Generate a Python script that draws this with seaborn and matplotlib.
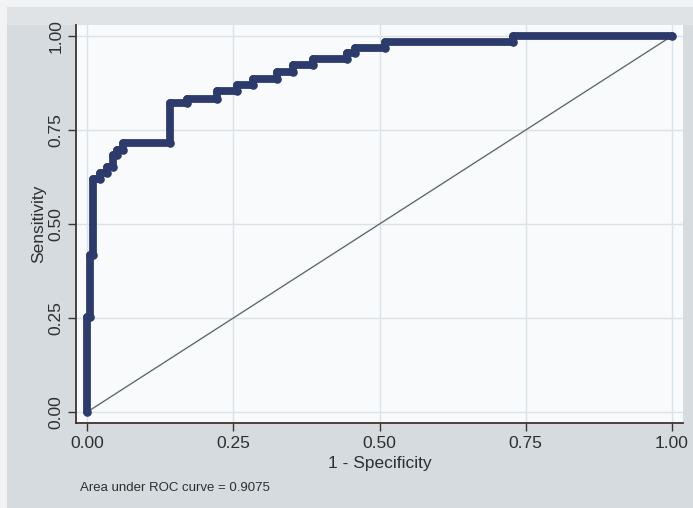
import matplotlib
matplotlib.use("Agg")
import matplotlib.pyplot as plt
import seaborn as sns
import pandas as pd
from matplotlib.patches import Rectangle

# ROC curve corner points (1 - specificity, sensitivity)
fpr = [0.000, 0.000, 0.005, 0.005, 0.010, 0.010, 0.022, 0.022, 0.034, 0.034,
       0.045, 0.045, 0.051, 0.051, 0.062, 0.062, 0.142, 0.142, 0.171, 0.171,
       0.222, 0.222, 0.256, 0.256, 0.284, 0.284, 0.325, 0.325, 0.352, 0.352,
       0.386, 0.386, 0.444, 0.444, 0.458, 0.458, 0.509, 0.509, 0.728, 0.728,
       1.000]
sens = [0.000, 0.253, 0.253, 0.418, 0.418, 0.620, 0.620, 0.635, 0.635, 0.652,
        0.652, 0.683, 0.683, 0.697, 0.697, 0.716, 0.716, 0.822, 0.822, 0.832,
        0.832, 0.854, 0.854, 0.870, 0.870, 0.886, 0.886, 0.904, 0.904, 0.923,
        0.923, 0.939, 0.939, 0.955, 0.955, 0.968, 0.968, 0.984, 0.984, 1.000,
        1.000]
ref_line = [0.0, 1.0]
ticks = [0.0, 0.25, 0.5, 0.75, 1.0]
tick_labels = ["0.00", "0.25", "0.50", "0.75", "1.00"]
auc_text = "Area under ROC curve = 0.9075"

sns.set_theme(style="white")
plt.rcParams["font.family"] = ["Liberation Sans", "DejaVu Sans"]

fig_bg = "#d5dbdf"
plot_bg = "#f8fafb"
curve_col = "#2d3b6c"
text_col = "#2f2f2f"

fig = plt.figure(figsize=(6.93, 5.08), dpi=100, facecolor=fig_bg)
# pale margin along top and left edges, lighter band across the top
for rect, col in [((0, 0.986, 1, 0.014), "#f1f3f4"),
                  ((0, 0, 0.010, 1), "#f1f3f4"),
                  ((0.010, 0.951, 0.99, 0.035), "#dfe3e6")]:
    fig.patches.append(Rectangle(rect[:2], rect[2], rect[3], transform=fig.transFigure,
                                 facecolor=col, edgecolor="none", zorder=-10))

ax = fig.add_axes([0.1097, 0.1673, 0.8759, 0.7835])
ax.set_facecolor(plot_bg)

df_roc = pd.DataFrame({"fpr": fpr, "sens": sens})
df_ref = pd.DataFrame({"x": ref_line, "y": ref_line})

sns.lineplot(data=df_ref, x="x", y="y", ax=ax, color="#5f6f6c", linewidth=1.0,
             sort=False, estimator=None, zorder=2)
sns.lineplot(data=df_roc, x="fpr", y="sens", ax=ax, color=curve_col, linewidth=5.6,
             sort=False, estimator=None, marker="o", markersize=6.2, markeredgewidth=0,
             solid_capstyle="round", solid_joinstyle="round", zorder=3)

ax.set_xlim(-0.0188, 1.0188)
ax.set_ylim(-0.029, 1.029)
ax.set_xticks(ticks)
ax.set_xticklabels(tick_labels)
ax.set_yticks(ticks)
ax.set_yticklabels(tick_labels, rotation=90, va="center")

ax.grid(True, color="#dbe2e8", linewidth=1.0)
ax.set_axisbelow(True)
for side in ["top", "right"]:
    ax.spines[side].set_visible(False)
for side in ["left", "bottom"]:
    ax.spines[side].set_color("#3d3431")
    ax.spines[side].set_linewidth(1.3)

ax.tick_params(axis="both", which="major", direction="out", length=6, width=1.0,
               color="#3d3431", labelsize=12.5, labelcolor=text_col, pad=3,
               bottom=True, left=True)

ax.set_xlabel("1 - Specificity", fontsize=12.5, color=text_col, labelpad=4)
ax.set_ylabel("Sensitivity", fontsize=12.5, color=text_col, labelpad=2)

fig.text(80 / 693, 1 - 488 / 508, auc_text, fontsize=9.5, color=text_col,
         ha="left", va="center")

fig.savefig("out.png", dpi=100, facecolor=fig_bg)
